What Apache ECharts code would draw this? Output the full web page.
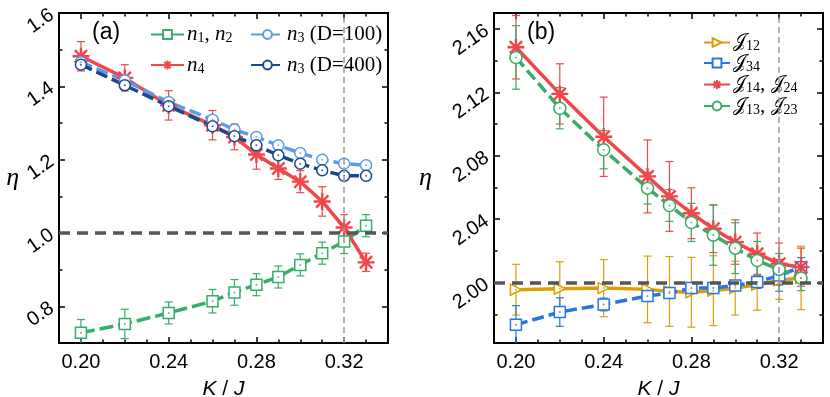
<!DOCTYPE html>
<html>
<head>
<meta charset="utf-8">
<script src="https://cdn.jsdelivr.net/npm/echarts@6/dist/echarts.min.js"></script>
<style>
  html, body { margin: 0; padding: 0; background: #fff; }
  #chart { width: 830px; height: 397px; }
</style>
</head>
<body>
<div id="chart"></div>
<script>
// data
var kj = [0.20, 0.22, 0.24, 0.26, 0.27, 0.28, 0.29, 0.30, 0.31, 0.32, 0.33];

// panel (a)
var n12 = [0.728, 0.752, 0.782, 0.814, 0.838, 0.859, 0.880, 0.913, 0.945, 0.977, 1.020];
var n12Err = [0.036, 0.040, 0.030, 0.032, 0.035, 0.030, 0.030, 0.030, 0.030, 0.033, 0.030];
var n4 = [1.482, 1.423, 1.348, 1.294, 1.262, 1.214, 1.176, 1.140, 1.086, 1.015, 0.920];
var n4Err = [0.040, 0.036, 0.040, 0.040, 0.035, 0.040, 0.030, 0.030, 0.040, 0.035, 0.025];
var n3D100 = [1.466, 1.416, 1.357, 1.309, 1.282, 1.262, 1.239, 1.218, 1.200, 1.189, 1.185];
var n3D400 = [1.459, 1.403, 1.346, 1.291, 1.264, 1.239, 1.212, 1.189, 1.171, 1.156, 1.156];

// panel (b)
var j12 = [1.9956, 1.9962, 1.9966, 1.9958, 1.9945, 1.9940, 1.9950, 1.9966, 1.9987, 2.0015, 2.0030];
var j12Err = [0.016, 0.017, 0.018, 0.021, 0.022, 0.022, 0.022, 0.017, 0.016, 0.012, 0.020];
var j34 = [1.9735, 1.9815, 1.9863, 1.9916, 1.9935, 1.9966, 1.9966, 1.9983, 2.0004, 2.0046, 2.0098];
var j34Err = [0.012, 0.009, 0.004, 0.003, 0.003, 0.003, 0.003, 0.003, 0.004, 0.010, 0.006];
var j14 = [2.1484, 2.1190, 2.0920, 2.0670, 2.0544, 2.0438, 2.0340, 2.0256, 2.0183, 2.0120, 2.0098];
var j14Err = [0.020, 0.019, 0.025, 0.023, 0.022, 0.016, 0.015, 0.014, 0.013, 0.013, 0.012];
var j13 = [2.1420, 2.1100, 2.0838, 2.0596, 2.0487, 2.0380, 2.0300, 2.0218, 2.0140, 2.0084, 2.0030];
var j13Err = [0.020, 0.013, 0.012, 0.010, 0.010, 0.012, 0.019, 0.016, 0.012, 0.010, 0.008];

// ticks
var xTicks = [0.20, 0.24, 0.28, 0.32];
var xMinor = [0.19, 0.21, 0.22, 0.23, 0.25, 0.26, 0.27, 0.29, 0.30, 0.31, 0.33, 0.34];
var yTicksA = [0.8, 1.0, 1.2, 1.4, 1.6];
var yMinorA = [0.7, 0.9, 1.1, 1.3, 1.5];
var yTicksB = [2.00, 2.04, 2.08, 2.12, 2.16];
var yMinorB = [1.98, 2.02, 2.06, 2.10, 2.14];
var refA = 1.0, refB = 2.0, critK = 0.324;

var GREEN = '#37ad68', RED = '#f2474a', LBLUE = '#5a9be8', DBLUE = '#18488f';
var GOLD = '#d9a106', BLUE = '#2a76df';
var STAR = 'path://M0,-1L0,1M-1,0L1,0M-0.72,-0.72L0.72,0.72M-0.72,0.72L0.72,-0.72';
var TRI = 'path://M0,0L10,5L0,10Z';

var myChart = echarts.init(document.getElementById('chart'));

function xAxes(gi) {
    var base = {type: 'value', gridIndex: gi, min: 0.19, max: 0.34, splitLine: {show: false},
        axisLine: {show: false}};
    return [
        Object.assign({}, base, {position: 'bottom',
            axisTick: {inside: true, length: 6, customValues: xTicks, lineStyle: {color: '#000', width: 1.5}},
            axisLabel: {customValues: xTicks, margin: 9, color: '#000', fontSize: 20, fontFamily: 'Liberation Sans',
                formatter: function (v) { return v.toFixed(2); }},
            name: '{i|K} / {i|J}', nameLocation: 'middle', nameGap: 36,
            nameTextStyle: {fontSize: 21, fontFamily: 'Liberation Sans', color: '#000',
                rich: {i: {fontSize: 21, fontStyle: 'italic', fontFamily: 'Liberation Sans'}}}}),
        Object.assign({}, base, {position: 'bottom', axisLabel: {show: false},
            axisTick: {inside: true, length: 3.5, customValues: xMinor, lineStyle: {color: '#000', width: 1.5}}}),
        Object.assign({}, base, {position: 'top', axisLabel: {show: false},
            axisTick: {inside: true, length: 6, customValues: xTicks, lineStyle: {color: '#000', width: 1.5}}}),
        Object.assign({}, base, {position: 'top', axisLabel: {show: false},
            axisTick: {inside: true, length: 3.5, customValues: xMinor, lineStyle: {color: '#000', width: 1.5}}})
    ];
}

function yAxes(gi, min, max, ticks, minor, digits, nameGap) {
    var base = {type: 'value', gridIndex: gi, min: min, max: max, splitLine: {show: false},
        axisLine: {show: false}};
    return [
        Object.assign({}, base, {position: 'left',
            axisTick: {inside: true, length: 6, customValues: ticks, lineStyle: {color: '#000', width: 1.5}},
            axisLabel: {customValues: ticks, margin: 7, rotate: 35, color: '#000', fontSize: 20,
                fontFamily: 'Liberation Sans', formatter: function (v) { return v.toFixed(digits); }},
            name: 'η', nameLocation: 'middle', nameRotate: 0, nameGap: nameGap,
            nameTextStyle: {fontSize: 26, fontStyle: 'italic', fontFamily: 'Liberation Serif', color: '#000'}}),
        Object.assign({}, base, {position: 'left', axisLabel: {show: false},
            axisTick: {inside: true, length: 3.5, customValues: minor, lineStyle: {color: '#000', width: 1.5}}}),
        Object.assign({}, base, {position: 'right', axisLabel: {show: false},
            axisTick: {inside: true, length: 6, customValues: ticks, lineStyle: {color: '#000', width: 1.5}}}),
        Object.assign({}, base, {position: 'right', axisLabel: {show: false},
            axisTick: {inside: true, length: 3.5, customValues: minor, lineStyle: {color: '#000', width: 1.5}}})
    ];
}

function pts(vals) {
    return kj.map(function (k, i) { return [k, vals[i]]; });
}

function errBars(vals, errs, color, ai) {
    return {
        type: 'custom', xAxisIndex: ai, yAxisIndex: ai, z: 1, silent: true, clip: true,
        data: kj.map(function (k, i) { return [k, vals[i], errs[i]]; }),
        renderItem: function (params, api) {
            var x = api.value(0), y = api.value(1), e = api.value(2);
            var lo = api.coord([x, y - e]), hi = api.coord([x, y + e]);
            var st = {stroke: color, lineWidth: 1.2};
            return {type: 'group', children: [
                {type: 'line', shape: {x1: lo[0], y1: lo[1], x2: hi[0], y2: hi[1]}, style: st},
                {type: 'line', shape: {x1: lo[0] - 4, y1: lo[1], x2: lo[0] + 4, y2: lo[1]}, style: st},
                {type: 'line', shape: {x1: hi[0] - 4, y1: hi[1], x2: hi[0] + 4, y2: hi[1]}, style: st}
            ]};
        }
    };
}

function line(name, vals, color, ai, symbol, size, dash, fill) {
    return {
        name: name, type: 'line', xAxisIndex: ai, yAxisIndex: ai, z: 3, color: color,
        data: pts(vals), symbol: symbol, symbolSize: size, showAllSymbol: true,
        lineStyle: {color: color, width: 3.5, type: dash},
        itemStyle: {color: fill ? color : '#fff', borderColor: color, borderWidth: symbol === STAR ? 2.4 : 1.5},
        emphasis: {disabled: true}
    };
}

function dots(vals, color, ai) {
    return {type: 'scatter', xAxisIndex: ai, yAxisIndex: ai, z: 4, silent: true,
        data: pts(vals), symbolSize: 2, itemStyle: {color: color}};
}

var sub = {fontFamily: 'Liberation Serif', fontSize: 14, verticalAlign: 'bottom', lineHeight: 13, color: '#000'};
var rich = {
    i: {fontFamily: 'Liberation Serif', fontStyle: 'italic', fontSize: 21, lineHeight: 22, color: '#000'},
    r: {fontFamily: 'Liberation Serif', fontSize: 21, lineHeight: 22, color: '#000'},
    j: {fontFamily: 'DejaVu Serif', fontSize: 19, lineHeight: 22, color: '#000'},
    s: sub
};
var legendText = {
    'n1, n2': '{i|n}{s|1}{r|, }{i|n}{s|2}',
    'n4': '{i|n}{s|4}',
    'n3 (D=100)': '{i|n}{s|3}{r| (D=100)}',
    'n3 (D=400)': '{i|n}{s|3}{r| (D=400)}',
    'J12': '{j|𝒥}{s|12}',
    'J34': '{j|𝒥}{s|34}',
    'J14, J24': '{j|𝒥}{s|14}{r|, }{j|𝒥}{s|24}',
    'J13, J23': '{j|𝒥}{s|13}{r|, }{j|𝒥}{s|23}'
};
function legend(left, top, names, gap, w) {
    return {left: left, top: top, orient: 'vertical', data: names, itemGap: gap,
        itemWidth: w, itemHeight: 11, selectedMode: false, padding: 0,
        formatter: function (n) { return legendText[n]; },
        textStyle: {rich: rich, padding: [0, 0, 0, -2]}};
}

var refLine = function (axis, v, color, width, dash) {
    var d = {}; d[axis] = v;
    return {silent: true, symbol: 'none', label: {show: false},
        lineStyle: {color: color, width: width, type: dash}, data: [d]};
};

var helperA = {type: 'line', xAxisIndex: 0, yAxisIndex: 0, data: [], z: 2,
    markLine: refLine('yAxis', refA, '#555', 3.5, [11, 7])};
var helperA2 = {type: 'line', xAxisIndex: 0, yAxisIndex: 0, data: [], z: 2,
    markLine: refLine('xAxis', critK, '#9a9a9a', 1.5, [6, 4])};
var helperB = {type: 'line', xAxisIndex: 4, yAxisIndex: 4, data: [], z: 2,
    markLine: refLine('yAxis', refB, '#555', 3.5, [11, 7])};
var helperB2 = {type: 'line', xAxisIndex: 4, yAxisIndex: 4, data: [], z: 2,
    markLine: refLine('xAxis', critK, '#9a9a9a', 1.5, [6, 4])};

option = {
    animation: false,
    grid: [
        {left: 59, top: 13, width: 329, height: 330, show: true, borderColor: '#000', borderWidth: 2,
            outerBoundsMode: 'none'},
        {left: 494, top: 13, width: 329, height: 330, show: true, borderColor: '#000', borderWidth: 2,
            outerBoundsMode: 'none'}
    ],
    xAxis: xAxes(0).concat(xAxes(1)),
    yAxis: yAxes(0, 0.70, 1.60, yTicksA, yMinorA, 1, 38)
        .concat(yAxes(1, 1.962, 2.17, yTicksB, yMinorB, 2, 62)),
    legend: [
        legend(150, 24, ['n1, n2', 'n4'], 9, 33),
        legend(250, 24, ['n3 (D=100)', 'n3 (D=400)'], 9, 33),
        legend(703, 33, ['J12', 'J34', 'J14, J24', 'J13, J23'], 0, 26)
    ],
    graphic: [
        {type: 'text', left: 92, top: 21, style: {text: '(a)', fontSize: 23, fontFamily: 'Liberation Sans', fill: '#000'}},
        {type: 'text', left: 527, top: 21, style: {text: '(b)', fontSize: 23, fontFamily: 'Liberation Sans', fill: '#000'}}
    ],
    series: [
        helperA, helperA2, helperB, helperB2,
        errBars(n12, n12Err, GREEN, 0),
        errBars(n4, n4Err, RED, 0),
        line('n1, n2', n12, GREEN, 0, 'rect', 11, [14, 5]),
        line('n4', n4, RED, 0, STAR, 17, 'solid', true),
        line('n3 (D=100)', n3D100, LBLUE, 0, 'circle', 11, [12, 5]),
        line('n3 (D=400)', n3D400, DBLUE, 0, 'circle', 11, [12, 5]),
        dots(n12, GREEN, 0), dots(n3D100, LBLUE, 0), dots(n3D400, DBLUE, 0),

        errBars(j12, j12Err, GOLD, 4),
        errBars(j34, j34Err, BLUE, 4),
        errBars(j14, j14Err, RED, 4),
        errBars(j13, j13Err, GREEN, 4),
        line('J12', j12, GOLD, 4, TRI, 11, 'solid'),
        line('J34', j34, BLUE, 4, 'rect', 11, [12, 5]),
        line('J14, J24', j14, RED, 4, STAR, 17, 'solid', true),
        line('J13, J23', j13, GREEN, 4, 'circle', 12, [12, 5]),
        dots(j12, GOLD, 4), dots(j34, BLUE, 4), dots(j13, GREEN, 4)
    ]
};

myChart.setOption(option);

window.addEventListener('resize', function () {
    myChart.resize();
});
</script>
</body>
</html>
